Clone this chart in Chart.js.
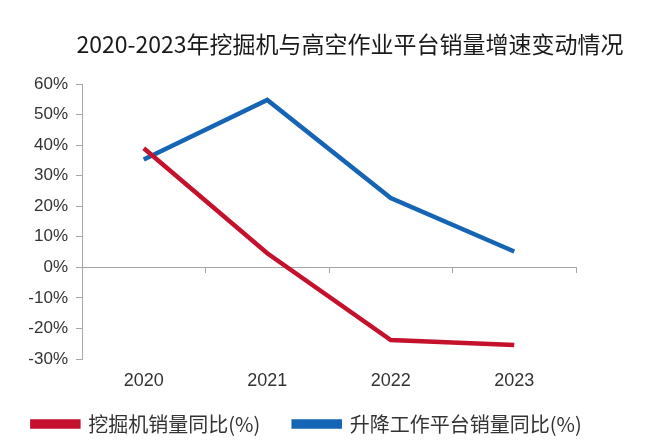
<!DOCTYPE html>
<html>
<head>
<meta charset="utf-8">
<script src="https://cdn.jsdelivr.net/npm/chart.js@4/dist/chart.umd.min.js"></script>
<style>
	html, body { margin: 0; padding: 0; background: #ffffff; }
	#wrap { width: 660px; height: 444px; }
</style>
</head>
<body>
<div id="wrap"><canvas id="myChart" width="660" height="444"></canvas></div>
<script>
const years = ["2020", "2021", "2022", "2023"];
const excavator = [39, 4.6, -23.8, -25.4];
const aerialPlatform = [35.3, 54.8, 22.7, 5.2];
const yTicks = [-30, -20, -10, 0, 10, 20, 30, 40, 50, 60];
const titleText = "2020-2023年挖掘机与高空作业平台销量增速变动情况";

const cjk = "'Noto Sans CJK SC', 'Liberation Sans', sans-serif";
const num = "'Liberation Sans', Arial, sans-serif";

// title drawn by hand so it can sit a bit right of centre like the original
const titlePlugin = {
	id: "offTitle",
	afterDraw(chart) {
		const ctx = chart.ctx;
		ctx.save();
		ctx.font = "23px " + cjk;
		ctx.fillStyle = "#1a1a1a";
		ctx.textAlign = "center";
		ctx.textBaseline = "middle";
		ctx.fillText(titleText, 350, 44);
		ctx.restore();
	}
};

new Chart("myChart", {
	type: "line",
	data: {
		labels: years,
		datasets: [{
			label: "挖掘机销量同比(%)",
			data: excavator,
			borderColor: "#c4122d",
			backgroundColor: "#c4122d",
			borderWidth: 4.5,
			pointRadius: 0,
			fill: false,
			tension: 0
		}, {
			label: "升降工作平台销量同比(%)",
			data: aerialPlatform,
			borderColor: "#1565b4",
			backgroundColor: "#1565b4",
			borderWidth: 4.5,
			pointRadius: 0,
			fill: false,
			tension: 0
		}]
	},
	options: {
		responsive: false,
		animation: false,
		layout: { padding: { top: 84, left: 0, right: 46, bottom: 0 } },
		plugins: {
			title: { display: false },
			tooltip: { enabled: false },
			legend: {
				position: "bottom",
				labels: {
					boxWidth: 46,
					boxHeight: 5,
					padding: 11,
					color: "#333333",
					font: { family: cjk, size: 20 },
					generateLabels: chart => {
						const items = Chart.defaults.plugins.legend.labels.generateLabels(chart);
						// a little extra room after the first entry
						items[0].text += "     ";
						return items;
					}
				}
			}
		},
		scales: {
			x: {
				offset: true,
				border: { display: false },
				grid: { display: false, drawTicks: false },
				ticks: { color: "#333333", font: { family: num, size: 18, lineHeight: 1.11 }, padding: 12 }
			},
			x2: {
				type: "category",
				labels: years,
				offset: true,
				position: { y: 0 },
				border: { display: true, color: "#a6a6a6", width: 1 },
				grid: {
					offset: true,
					drawOnChartArea: false,
					tickLength: 5,
					tickColor: ctx => (ctx.index === 0 || ctx.index === years.length) ? "rgba(0,0,0,0)" : "#a6a6a6"
				},
				ticks: { display: false }
			},
			y: {
				min: -30,
				max: 60,
				afterBuildTicks: axis => { axis.ticks = yTicks.map(v => ({ value: v })); },
				afterFit: axis => { axis.width = 82; },
				border: { display: true, color: "#a6a6a6", width: 1 },
				grid: {
					drawOnChartArea: false,
					tickLength: 6,
					tickColor: "#a6a6a6"
				},
				ticks: {
					color: "#333333",
					font: { family: num, size: 17 },
					padding: 8,
					callback: v => v + "%"
				}
			},
			// empty right axis, only keeps the plot from running to the edge
			yRight: {
				position: "right",
				min: -30,
				max: 60,
				border: { display: false },
				grid: { display: false, drawTicks: false },
				ticks: { display: false },
				afterFit: axis => { axis.width = 38; }
			}
		}
	},
	plugins: [titlePlugin]
});
</script>
</body>
</html>
